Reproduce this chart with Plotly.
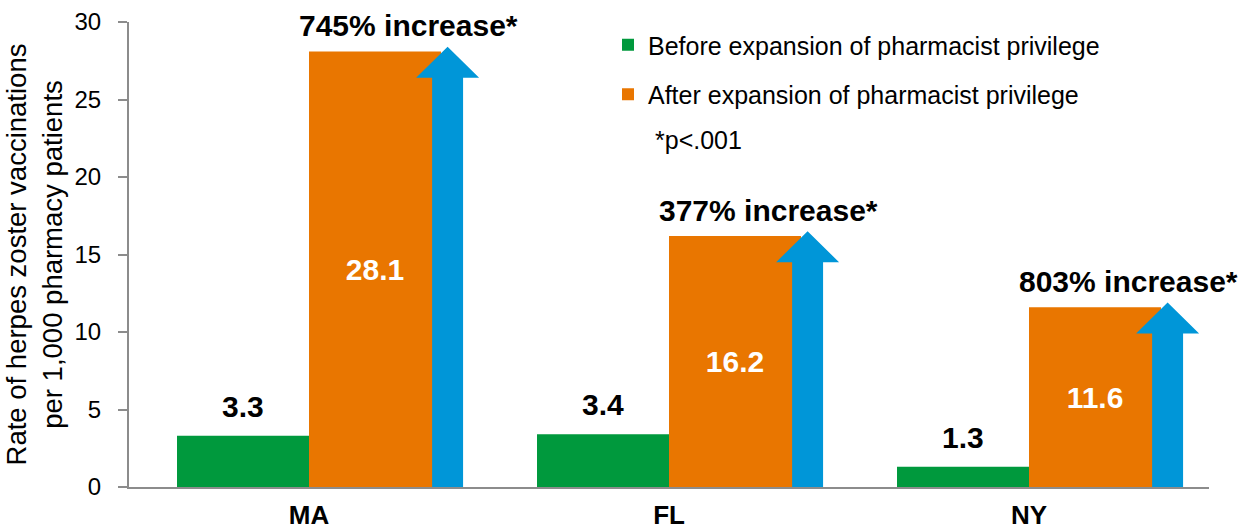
import plotly.graph_objects as go

# --- data -------------------------------------------------------------
states = ["MA", "FL", "NY"]
before = [3.3, 3.4, 1.3]
after = [28.1, 16.2, 11.6]
increase_pct = [745, 377, 803]
series_names = [
    "Before expansion of pharmacist privilege",
    "After expansion of pharmacist privilege",
]
y_ticks = [0, 5, 10, 15, 20, 25, 30]
footnote = "*p<.001"

# --- styling ----------------------------------------------------------
GREEN = "#00993D"
ORANGE = "#E97600"
BLUE = "#0096D8"
AXIS = "#8C8C8C"
FONT = "Arial, 'Liberation Sans', sans-serif"
BAR_GAP = 0.2667
BAR_W = (1 - BAR_GAP) / 2          # width of one bar in category units

fig = go.Figure()
fig.add_trace(go.Bar(
    x=states, y=before, name=series_names[0], marker_color=GREEN,
    marker_line_width=0, legendgroup="before",
))
fig.add_trace(go.Bar(
    x=states, y=after, name=series_names[1], marker_color=ORANGE,
    marker_line_width=0, legendgroup="after",
    text=[f"{v:.1f}" for v in after], textposition="inside",
    insidetextanchor="middle", textangle=0, constraintext="none",
    insidetextfont=dict(color="white", size=30, family=FONT, weight="bold"),
))

# upward arrows beside each "after" bar
shapes = []
ARROW_DX = 0.385     # arrow centre, right of category centre
SHAFT_HW = 0.043
HEAD_HW = 0.0875
HEAD_H = 2.0
for i, v in enumerate(after):
    c = i + ARROW_DX
    tip = v + 0.3
    base = tip - HEAD_H
    path = (f"M {c - SHAFT_HW} -0.3 L {c - SHAFT_HW} {base} L {c - HEAD_HW} {base} "
            f"L {c} {tip} L {c + HEAD_HW} {base} L {c + SHAFT_HW} {base} "
            f"L {c + SHAFT_HW} -0.3 Z")
    shapes.append(dict(type="path", path=path, xref="x", yref="y",
                       fillcolor=BLUE, line=dict(width=0), layer="above"))

annotations = []
for i, (v, p) in enumerate(zip(after, increase_pct)):
    annotations.append(dict(
        x=i + 0.275, y=v, xref="x", yref="y", yanchor="bottom", yshift=7,
        text=f"{p}% increase*", showarrow=False,
        font=dict(size=30, family=FONT, color="black", weight="bold"),
    ))
for i, v in enumerate(before):
    annotations.append(dict(
        x=i - BAR_W / 2, y=v, xref="x", yref="y", yanchor="bottom", yshift=11,
        text=f"{v:.1f}", showarrow=False,
        font=dict(size=30, family=FONT, color="black", weight="bold"),
    ))
annotations.append(dict(
    x=(653 - 129) / 1080, y=(487 - 140) / 465, xref="paper", yref="paper",
    xanchor="left", yanchor="middle", text=footnote, showarrow=False,
    font=dict(size=25, family=FONT, color="black"),
))

fig.update_layout(
    width=1248, height=531, autosize=False,
    margin=dict(l=129, r=39, t=22, b=44),
    paper_bgcolor="white", plot_bgcolor="white",
    barmode="group", bargap=BAR_GAP, bargroupgap=0,
    font=dict(family=FONT, color="black"),
    shapes=shapes, annotations=annotations,
    showlegend=True,
    legend=dict(
        x=(608 - 129) / 1080, y=1.0, xanchor="left", yanchor="top",
        font=dict(size=25, family=FONT, color="black"),
        tracegroupgap=14, itemwidth=30, bgcolor="rgba(0,0,0,0)",
        traceorder="grouped",
    ),
    xaxis=dict(
        range=[-0.5, 2.5], showline=True, linecolor=AXIS, linewidth=2,
        ticks="", showgrid=False, zeroline=False, automargin=False,
        ticklabelstandoff=4,
        tickfont=dict(size=26, family=FONT, color="black", weight="bold"),
    ),
    yaxis=dict(
        range=[0, 30], tickvals=y_ticks, ticks="outside", ticklen=9,
        tickcolor=AXIS, tickwidth=2, showline=True, linecolor=AXIS, linewidth=2,
        showgrid=False, zeroline=False, ticklabelstandoff=12, automargin=False,
        tickfont=dict(size=24, family=FONT, color="black"),
        title=dict(
            text="Rate of herpes zoster vaccinations<br>per 1,000 pharmacy patients",
            font=dict(size=27.5, family=FONT, color="black"), standoff=4,
        ),
    ),
)

fig.write_html("out.html")
